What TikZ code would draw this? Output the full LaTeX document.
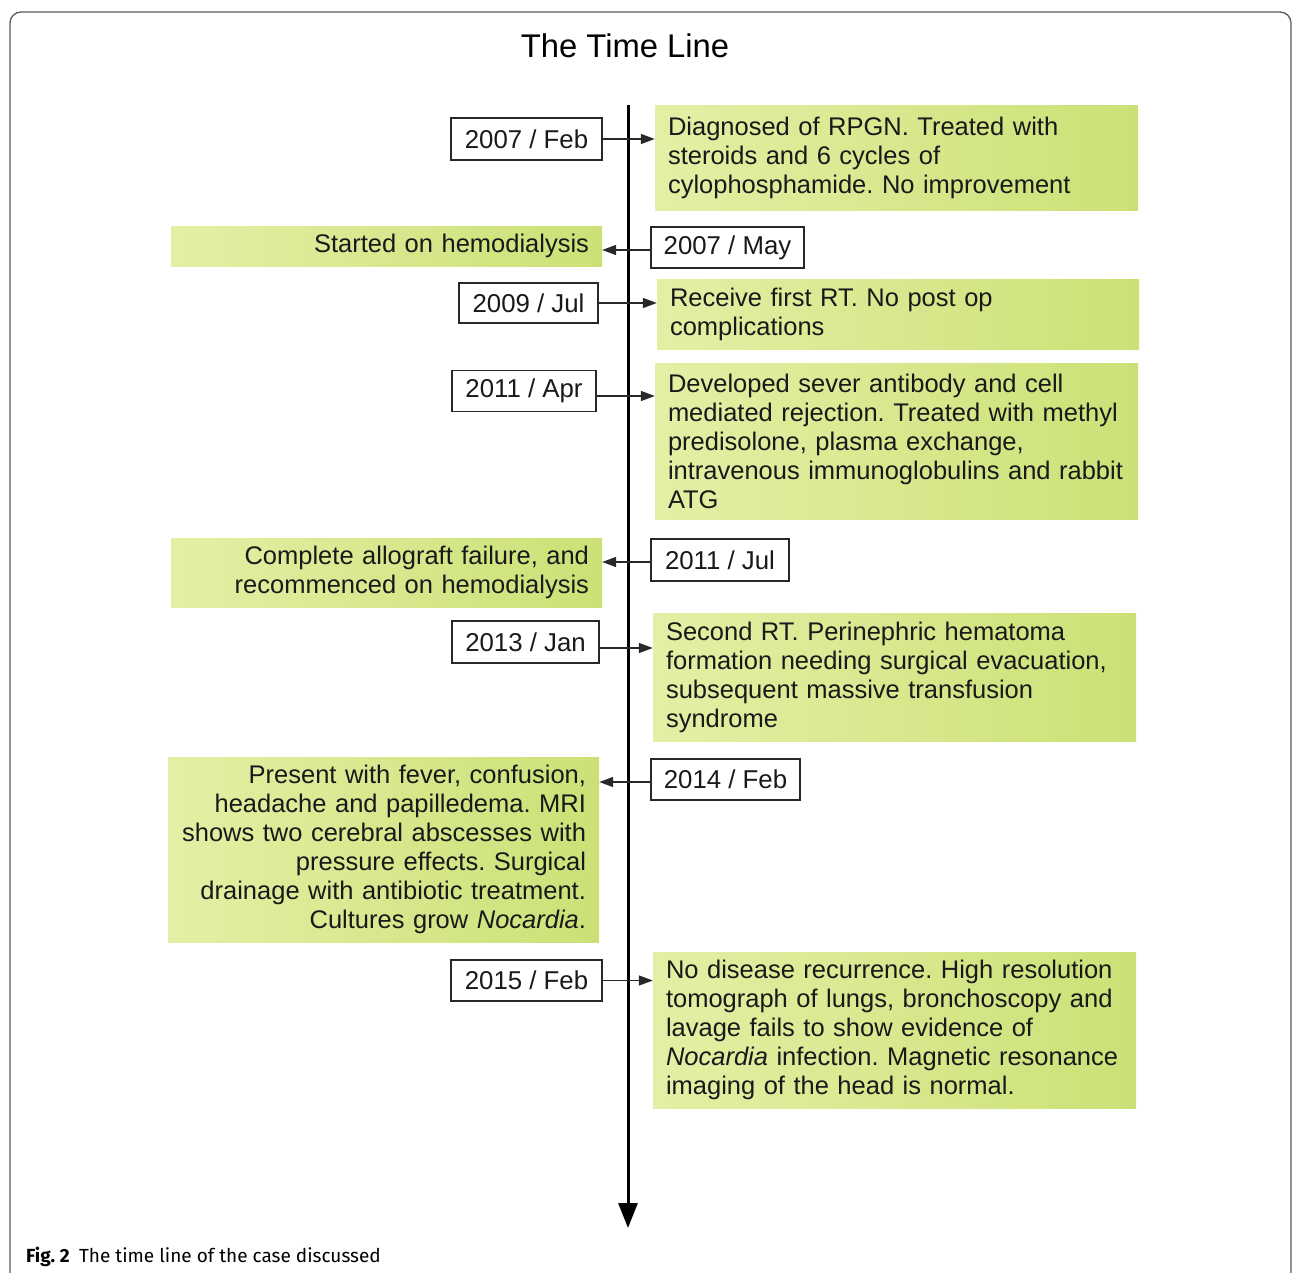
\documentclass[tikz,border=0pt]{standalone}
\usepackage{fontspec}
\setmainfont{Liberation Sans}
\newfontfamily\capfont{Fira Sans}
\usetikzlibrary{arrows.meta}
\definecolor{gL}{RGB}{228,239,165}
\definecolor{gR}{RGB}{203,225,118}
\definecolor{bord}{RGB}{40,40,40}
\definecolor{frame}{RGB}{90,90,90}
\frenchspacing
\tikzset{
  datebox/.style={draw=bord, line width=1.4pt, fill=white, inner sep=0pt, font=\fontsize{25.8}{29}\selectfont, text=black!90},
  gbox/.style={left color=gL, right color=gR, draw=none, inner xsep=13pt, inner ysep=0pt, font=\fontsize{25.5}{29}\selectfont, text=black!90},
  gright/.style={gbox, align=left},
  gleft/.style={gbox, align=right},
  conn/.style={line width=1.5pt, draw=bord, -{Triangle[length=14pt,width=10pt]}},
}
\begin{document}
\begin{tikzpicture}[x=1pt,y=-1pt]
\useasboundingbox (0,0) rectangle (1293,1272);
\draw[frame, line width=1.3pt, rounded corners=11pt] (10,1300) -- (10,12) -- (1291,12) -- (1291,1300);

\node[font=\fontsize{32.8}{36}\selectfont, anchor=base] (title) at (625,57) {The Time Line};

% timeline
\coordinate (ttop) at (628,105);
\coordinate (tbot) at (628,1228);
\draw[line width=3pt, -{Triangle[length=25pt,width=19pt]}] (ttop) -- (tbot);

% 1
\node[datebox, minimum width=151pt, minimum height=42pt] (d1) at (526.5,139) {2007 / Feb};
\node[gright, minimum width=483pt, minimum height=105pt, text width=457pt] (g1) at (896.5,157.5)
 {Diagnosed of RPGN. Treated with\\steroids and 6 cycles of\\cylophosphamide. No improvement};
\draw[conn] (d1.east) -- (d1.east -| g1.west);

% 2
\node[gleft, minimum width=431pt, minimum height=40pt, text width=405pt] (g2) at (386.5,246) {Started on hemodialysis};
\node[datebox, minimum width=153pt, minimum height=41pt] (d2) at (727.5,247.5) {2007 / May};
\draw[conn] ([yshift=-2.5pt]d2.west) -- ([yshift=-2.5pt]d2.west -| g2.east);

% 3
\node[datebox, minimum width=139pt, minimum height=40pt] (d3) at (528.5,303) {2009 / Jul};
\node[gright, minimum width=482pt, minimum height=70pt, text width=456pt] (g3) at (898,314)
 {Receive first RT. No post op\\complications};
\draw[conn] (d3.east) -- (d3.east -| g3.west);

% 4
\node[datebox, minimum width=144pt, minimum height=41pt] (d4) at (524,391) {2011 / Apr};
\node[gright, minimum width=483pt, minimum height=156pt, text width=457pt] (g4) at (896.5,441)
 {Developed sever antibody and cell\\mediated rejection. Treated with methyl\\predisolone, plasma exchange,\\intravenous immunoglobulins and rabbit\\ATG};
\draw[conn] ([yshift=-5pt]d4.east) -- ([yshift=-5pt]d4.east -| g4.west);

% 5
\node[gleft, minimum width=431pt, minimum height=69pt, text width=405pt] (g5) at (386.5,572.5)
 {Complete allograft failure, and\\recommenced on hemodialysis};
\node[datebox, minimum width=138pt, minimum height=42pt] (d5) at (720,560) {2011 / Jul};
\draw[conn] ([yshift=-2pt]d5.west) -- ([yshift=-2pt]d5.west -| g5.east);

% 6
\node[datebox, minimum width=147pt, minimum height=42pt] (d6) at (525.5,642) {2013 / Jan};
\node[gright, minimum width=483pt, minimum height=128pt, text width=457pt] (g6) at (894.5,677)
 {Second RT. Perinephric hematoma\\formation needing surgical evacuation,\\subsequent massive transfusion\\syndrome};
\draw[conn] ([yshift=-6pt]d6.east) -- ([yshift=-6pt]d6.east -| g6.west);

% 7
\node[gleft, minimum width=431pt, minimum height=185pt, text width=405pt] (g7) at (383.5,849.5)
 {Present with fever, confusion,\\headache and papilledema. MRI\\shows two cerebral abscesses with\\pressure effects. Surgical\\drainage with antibiotic treatment.\\Cultures grow \textit{Nocardia}.};
\node[datebox, minimum width=149pt, minimum height=41pt] (d7) at (725.5,779.5) {2014 / Feb};
\draw[conn] ([yshift=-2.5pt]d7.west) -- ([yshift=-2.5pt]d7.west -| g7.east);

% 8
\node[datebox, minimum width=151pt, minimum height=41pt] (d8) at (526.5,980.5) {2015 / Feb};
\node[gright, minimum width=483pt, minimum height=156pt, text width=457pt] (g8) at (894.5,1030)
 {No disease recurrence. High resolution\\tomograph of lungs, bronchoscopy and\\lavage fails to show evidence of\\\textit{Nocardia} infection. Magnetic resonance\\imaging of the head is normal.};
\draw[conn] (d8.east) -- (d8.east -| g8.west);

% caption
\node[anchor=base west, inner sep=0pt, font=\capfont\fontsize{19}{23}\selectfont] (cap) at (26,1262)
 {\textbf{Fig. 2}\hspace{0.5em}The time line of the case discussed};
\end{tikzpicture}
\end{document}
